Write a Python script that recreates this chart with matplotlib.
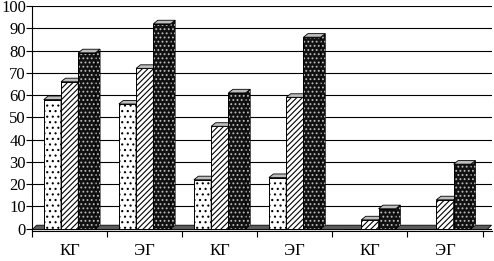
import numpy as np
import matplotlib.pyplot as plt
from matplotlib.patches import Polygon

# Group labels and three series (values in %)
groups = ['КГ', 'ЭГ', 'КГ', 'ЭГ', 'КГ', 'ЭГ']
series_dotted = [58, 56, 22, 23, 0, 0]
series_hatched = [66, 72, 46, 59, 4, 13]
series_dark = [79, 92, 61, 86, 9, 29]

plt.rcParams['font.family'] = ['Liberation Serif', 'DejaVu Serif']
plt.rcParams['hatch.linewidth'] = 0.8

fig = plt.figure(figsize=(4.94, 2.61), dpi=100)
ax = fig.add_axes([0.065, 0.115, 0.93, 0.862])

x = np.arange(len(groups))
w = 0.23
dx, dy = 0.06, 1.6   # fake 3D depth

# floor strip
floor = Polygon([(-0.5, -0.4), (5.5 + dx, -0.4), (5.5 + 2 * dx, dy), (-0.5 + dx, dy)],
                closed=True, facecolor='#5a5a5a', edgecolor='black', lw=0.6, zorder=2)
ax.add_patch(floor)

styles = [
    (series_dotted, -w, 'white', 'black', '...'),
    (series_hatched, 0, 'white', 'black', '//////'),
    (series_dark, w, '#111111', '#bdbdbd', '....'),
]

for vals, off, fc, hc, hatch in styles:
    xs = x + off
    ax.bar(xs, vals, w, color=fc, edgecolor='none', zorder=3)
    ax.bar(xs, vals, w, color='none', edgecolor=hc, hatch=hatch, lw=0, zorder=3)
    ax.bar(xs, vals, w, color='none', edgecolor='black', lw=0.7, zorder=3)
    for xc, v in zip(xs, vals):
        if v <= 0:
            continue
        x0, x1 = xc - w / 2, xc + w / 2
        top = Polygon([(x0, v), (x0 + dx, v + dy), (x1 + dx, v + dy), (x1, v)],
                      closed=True, facecolor='#bdbdbd', edgecolor='black', lw=0.6, zorder=3)
        side = Polygon([(x1, 0), (x1, v), (x1 + dx, v + dy), (x1 + dx, dy)],
                       closed=True, facecolor=fc, edgecolor='black', lw=0.6, zorder=3)
        ax.add_patch(side)
        ax.add_patch(Polygon(side.get_xy(), closed=True, facecolor='none',
                             edgecolor=hc, hatch=hatch, lw=0, zorder=3))
        ax.add_patch(top)

ax.set_xlim(-0.5, 5.5 + 2 * dx)
ax.set_ylim(-1, 100)
ax.set_yticks(np.arange(0, 101, 10))
ax.yaxis.grid(True, color='black', lw=0.8)
ax.set_axisbelow(True)

ax.set_xticks(np.arange(-0.5, 6.0, 1.0))
ax.set_xticklabels([])
ax.set_xticks(x, minor=True)
ax.set_xticklabels(groups, minor=True, fontsize=12)
ax.tick_params(axis='x', which='minor', length=0, pad=9)
ax.tick_params(axis='x', which='major', length=4, direction='out')
ax.tick_params(axis='y', length=4, direction='out', labelsize=12, pad=0.5)

for s in ['top', 'right']:
    ax.spines[s].set_visible(False)
ax.spines['left'].set_bounds(-1, 100)

fig.savefig('out.png', dpi=100)
